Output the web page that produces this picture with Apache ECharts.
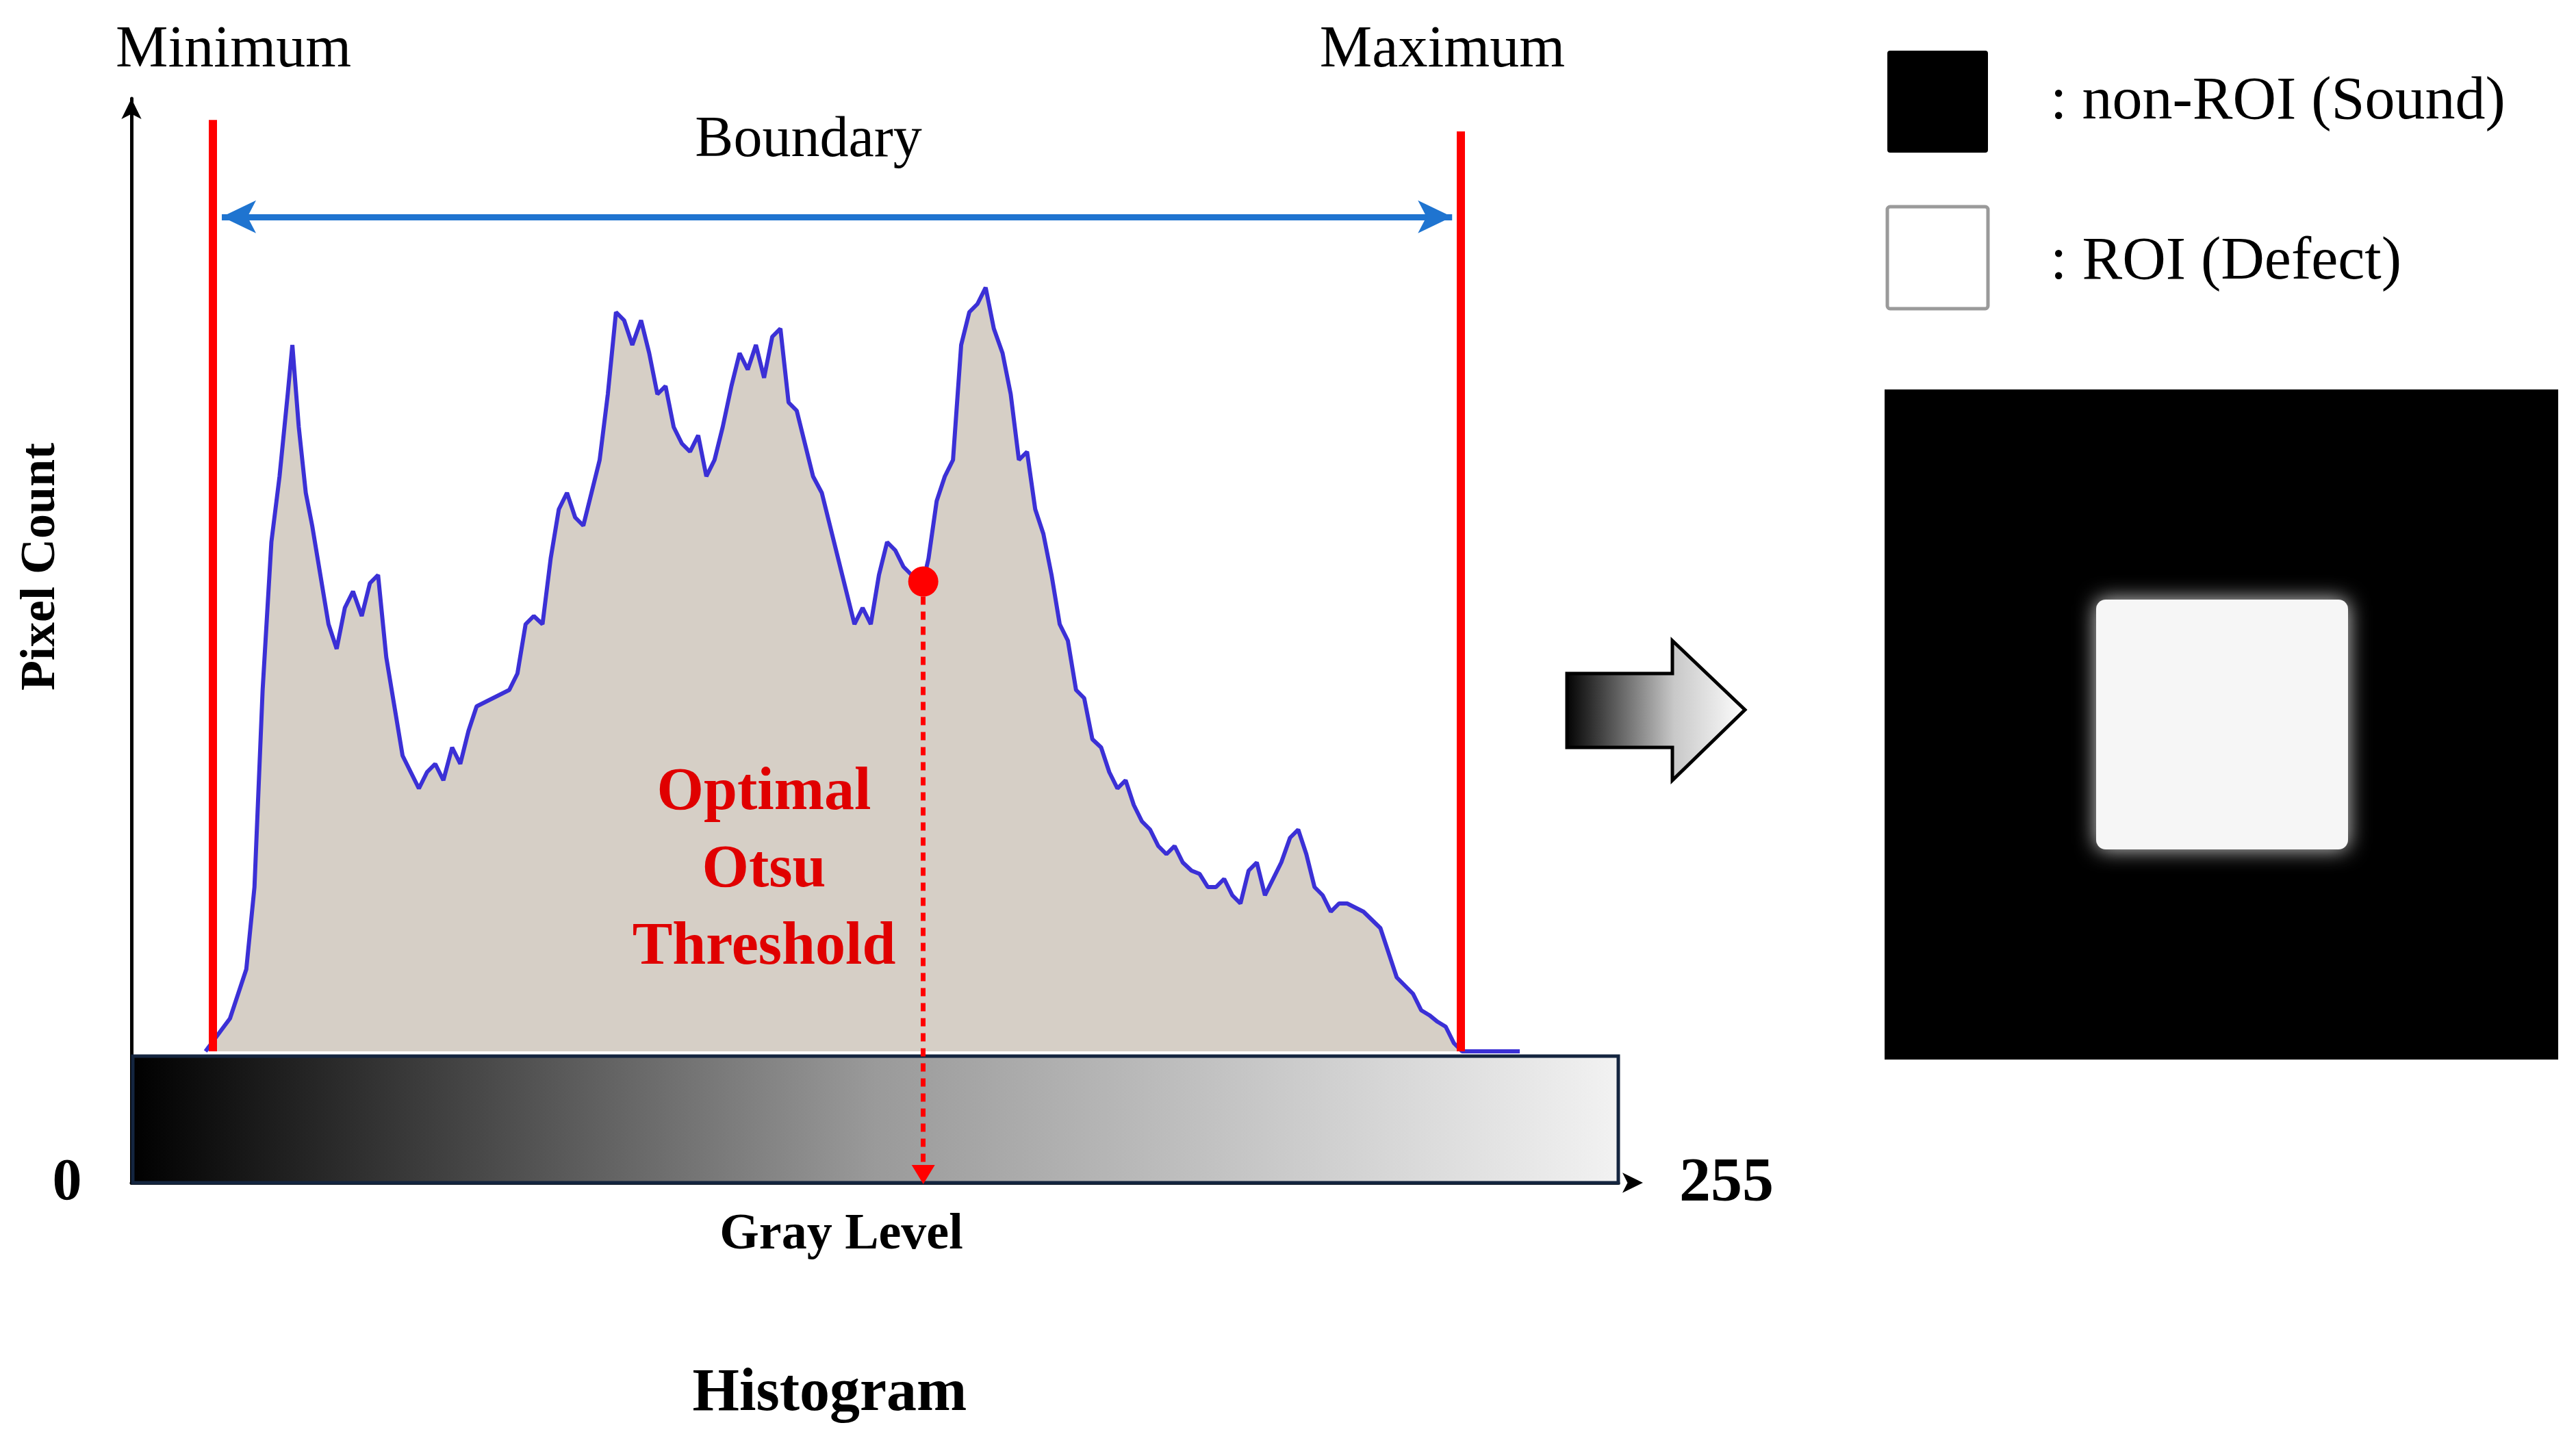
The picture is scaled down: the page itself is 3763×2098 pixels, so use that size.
<!DOCTYPE html>
<html>
<head>
<meta charset="utf-8">
<script src="https://cdn.jsdelivr.net/npm/echarts@6/dist/echarts.min.js"></script>
<style>html,body{margin:0;padding:0;background:#fff}#main{width:3763px;height:2098px}</style>
</head>
<body>
<div id="main"></div>
<script>
// histogram: gray level / pixel count (arbitrary units)
var grayLevel = [12.7,16.9,19.7,21.1,22.5,24.0,25.4,26.8,27.6,28.7,29.9,31.0,32.4,33.8,35.2,36.6,38.0,39.5,40.9,42.3,43.7,45.1,46.5,47.9,49.3,50.7,52.1,53.5,55.0,56.4,57.8,59.2,62.0,64.8,66.2,67.6,69.0,70.5,71.9,73.3,74.7,76.1,77.5,78.9,80.3,81.7,83.1,84.5,85.9,87.4,88.8,90.2,91.6,93.0,94.4,95.8,97.2,98.6,100.0,101.4,102.9,104.3,105.7,107.1,108.5,109.9,111.3,112.7,114.1,115.5,116.9,118.4,119.8,121.2,122.6,124.0,125.4,126.8,128.2,129.6,131.0,132.4,133.8,135.8,136.7,138.1,139.5,140.9,142.3,143.7,145.1,146.5,147.9,149.4,150.8,152.2,153.6,155.0,156.4,157.8,159.2,160.6,162.0,163.4,164.8,166.3,167.7,169.1,170.5,171.9,173.3,174.7,176.1,177.5,178.9,180.3,181.8,183.2,184.6,186.0,187.4,188.8,190.2,191.6,193.0,194.4,195.8,197.2,198.7,200.1,201.5,202.9,204.3,205.7,207.1,208.5,211.3,214.2,215.6,217.0,218.4,219.8,221.2,222.6,224.0,225.4,226.8,228.2,238.1];
var pixelCount = [0,20,50,100,220,310,350,400,430,380,340,320,290,260,245,270,280,265,285,290,240,210,180,170,160,170,175,165,185,175,195,210,215,220,230,260,265,260,300,330,340,325,320,340,360,400,450,445,430,445,425,400,405,380,370,365,375,350,360,380,405,425,415,430,410,435,440,395,390,370,350,340,320,300,280,260,270,260,290,310,305,295,290,286,300,335,350,360,430,450,455,465,440,425,400,360,365,330,315,290,260,250,220,215,190,185,170,160,165,150,140,135,125,120,125,115,110,108,100,100,105,95,90,110,115,95,105,115,130,135,120,100,95,85,90,90,85,75,60,45,40,35,25,22,18,15,5,0,0];
var minGray = 14, maxGray = 228;
var otsu = [135.8, 286];
var boundaryY = 508;

var histData = grayLevel.map(function(g, i) { return [g, pixelCount[i]]; });
var serif = 'Liberation Serif';

function txt(x, y, s, size, opt) {
  opt = opt || {};
  return {
    type: 'text', x: x, y: y, z: 20, rotation: opt.rot || 0,
    style: {
      text: s, fill: opt.color || '#000', textAlign: 'center', textVerticalAlign: 'middle',
      font: (opt.bold ? 'bold ' : '') + size + 'px "' + serif + '"'
    }
  };
}

var chart = echarts.init(document.getElementById('main'));
chart.setOption({
  backgroundColor: '#fff',
  animation: false,
  grid: { left: 192, top: 144, width: 2172, height: 1584 },
  xAxis: {
    type: 'value', min: 0, max: 255,
    axisLine: { onZero: false, lineStyle: { color: '#000', width: 5 }, symbol: ['none', 'arrow'], symbolSize: [22, 30], symbolOffset: [0, 36] },
    axisTick: { show: false }, axisLabel: { show: false }, splitLine: { show: false }
  },
  yAxis: {
    type: 'value', min: -80, max: 580,
    axisLine: { show: true, lineStyle: { color: '#000', width: 5 }, symbol: ['none', 'arrow'], symbolSize: [22, 30] },
    axisTick: { show: false }, axisLabel: { show: false }, splitLine: { show: false }
  },
  series: [{
    type: 'line', data: histData, symbol: 'none', z: 2,
    lineStyle: { color: '#3b30d6', width: 6 },
    areaStyle: { color: '#d6cfc6', opacity: 1 },
    markLine: {
      silent: true, symbol: 'none', label: { show: false },
      lineStyle: { color: '#ff0000', width: 12, type: 'solid' },
      data: [
        [{ coord: [minGray, 0] }, { coord: [minGray, 567] }],
        [{ coord: [maxGray, 0] }, { coord: [maxGray, 560] }]
      ]
    }
  }, {
    type: 'line', data: [], z: 10,
    markLine: {
      silent: true, label: { show: false },
      data: [
        [{ coord: [minGray + 1.5, boundaryY], symbol: 'arrow', symbolSize: [36, 50], lineStyle: { color: '#1f74d0', width: 9, type: 'solid' } },
         { coord: [maxGray - 1.5, boundaryY], symbol: 'arrow', symbolSize: [36, 50] }],
        [{ coord: [otsu[0], otsu[1]], symbol: 'none', lineStyle: { color: '#ff0000', width: 7, type: [12, 10] } },
         { coord: [otsu[0], -75], symbol: 'triangle', symbolSize: [34, 28], symbolRotate: 180 }]
      ]
    }
  }, {
    type: 'scatter', data: [otsu], z: 12, symbolSize: 44,
    itemStyle: { color: '#ff0000', opacity: 1 }
  }],
  graphic: [
    { type: 'rect', z: 5, shape: { x: 194, y: 1543, width: 2170, height: 185 },
      style: { stroke: '#14253f', lineWidth: 5,
        fill: new echarts.graphic.LinearGradient(0, 0, 1, 0, [
          { offset: 0, color: '#000' }, { offset: 0.5, color: '#9a9a9a' }, { offset: 1, color: '#f2f2f2' }]) } },
    txt(341, 74, 'Minimum', 86),
    txt(2107, 74, 'Maximum', 86),
    txt(1181, 206, 'Boundary', 84),
    txt(60, 828, 'Pixel Count', 72, { bold: true, rot: Math.PI / 2 }),
    txt(98, 1730, '0', 86, { bold: true }),
    txt(2522, 1730, '255', 92, { bold: true }),
    txt(1229, 1805, 'Gray Level', 74, { bold: true }),
    txt(1212, 2037, 'Histogram', 88, { bold: true }),
    txt(1116, 1159, 'Optimal', 88, { bold: true, color: '#e00000' }),
    txt(1116, 1272, 'Otsu', 88, { bold: true, color: '#e00000' }),
    txt(1116, 1385, 'Threshold', 88, { bold: true, color: '#e00000' }),
    // legend
    { type: 'rect', z: 20, shape: { x: 2757, y: 74, width: 147, height: 149, r: 4 }, style: { fill: '#000' } },
    { type: 'rect', z: 20, shape: { x: 2757, y: 302, width: 147, height: 149, r: 4 }, style: { fill: '#fff', stroke: '#9a9a9a', lineWidth: 5 } },
    { type: 'text', z: 20, x: 2995, y: 150, style: { text: ': non-ROI (Sound)', font: '88px "' + serif + '"', textVerticalAlign: 'middle', fill: '#000' } },
    { type: 'text', z: 20, x: 2995, y: 384, style: { text: ': ROI (Defect)', font: '88px "' + serif + '"', textVerticalAlign: 'middle', fill: '#000' } },
    // result image
    { type: 'rect', z: 20, shape: { x: 2753, y: 569, width: 984, height: 979 }, style: { fill: '#000' } },
    { type: 'rect', z: 21, shape: { x: 3062, y: 876, width: 368, height: 365, r: 14 },
      style: { fill: '#f6f6f6', shadowBlur: 30, shadowColor: 'rgba(240,240,240,0.9)' } },
    // arrow
    { type: 'polygon', z: 20,
      shape: { points: [[2289, 984], [2443, 984], [2443, 936], [2549, 1037], [2443, 1140], [2443, 1092], [2289, 1092]] },
      style: { stroke: '#000', lineWidth: 5,
        fill: new echarts.graphic.LinearGradient(0, 0, 1, 0, [{ offset: 0, color: '#000' }, { offset: 0.6, color: '#c8c8c8' }, { offset: 1, color: '#fff' }]) } }
  ]
});
</script>
</body>
</html>
